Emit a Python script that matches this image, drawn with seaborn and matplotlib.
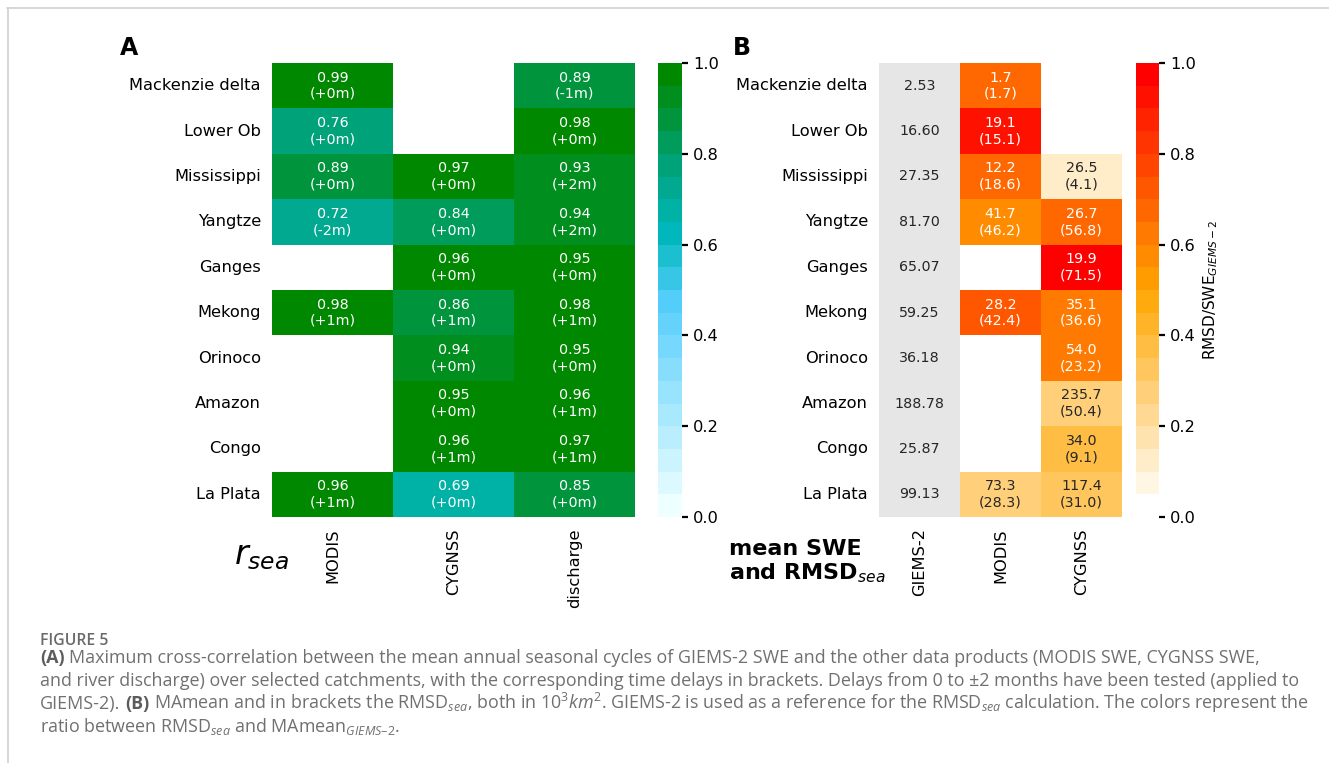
import numpy as np
import pandas as pd
import matplotlib
matplotlib.use("Agg")
import matplotlib.pyplot as plt
from matplotlib.colors import LinearSegmentedColormap, ListedColormap
from matplotlib.lines import Line2D
import seaborn as sns

# ---------------------------------------------------------------- data
catchments = ["Mackenzie delta", "Lower Ob", "Mississippi", "Yangtze", "Ganges",
              "Mekong", "Orinoco", "Amazon", "Congo", "La Plata"]
nan = np.nan

# (A) maximum cross-correlation and lag in months
products_a = ["MODIS", "CYGNSS", "discharge"]
r_modis = [0.99, 0.76, 0.89, 0.72, nan, 0.98, nan, nan, nan, 0.96]
lag_modis = [0, 0, 0, -2, nan, 1, nan, nan, nan, 1]
r_cygnss = [nan, nan, 0.97, 0.84, 0.96, 0.86, 0.94, 0.95, 0.96, 0.69]
lag_cygnss = [nan, nan, 0, 0, 0, 1, 0, 0, 1, 0]
r_discharge = [0.89, 0.98, 0.93, 0.94, 0.95, 0.98, 0.95, 0.96, 0.97, 0.85]
lag_discharge = [-1, 0, 2, 2, 0, 1, 0, 1, 1, 0]

# (B) mean annual SWE and RMSD_sea, in 10^3 km^2
products_b = ["GIEMS-2", "MODIS", "CYGNSS"]
giems_mean = [2.53, 16.60, 27.35, 81.70, 65.07, 59.25, 36.18, 188.78, 25.87, 99.13]
modis_mean = [1.7, 19.1, 12.2, 41.7, nan, 28.2, nan, nan, nan, 73.3]
modis_rmsd = [1.7, 15.1, 18.6, 46.2, nan, 42.4, nan, nan, nan, 28.3]
cygnss_mean = [nan, nan, 26.5, 26.7, 19.9, 35.1, 54.0, 235.7, 34.0, 117.4]
cygnss_rmsd = [nan, nan, 4.1, 56.8, 71.5, 36.6, 23.2, 50.4, 9.1, 31.0]

# ---------------------------------------------------------------- tables
r_df = pd.DataFrame({"MODIS": r_modis, "CYGNSS": r_cygnss, "discharge": r_discharge},
                    index=catchments)[products_a]
lag_df = pd.DataFrame({"MODIS": lag_modis, "CYGNSS": lag_cygnss, "discharge": lag_discharge},
                      index=catchments)[products_a]


def r_label(r, lag):
    if np.isnan(r):
        return ""
    return f"{r:.2f}\n({int(lag):+d}m)"


annot_a = np.array([[r_label(r_df.iat[i, j], lag_df.iat[i, j]) for j in range(3)]
                    for i in range(len(catchments))])

giems = np.array(giems_mean)
ratio_df = pd.DataFrame({"GIEMS-2": [nan] * len(catchments),
                         "MODIS": np.array(modis_rmsd) / giems,
                         "CYGNSS": np.array(cygnss_rmsd) / giems},
                        index=catchments)[products_b]
giems_df = pd.DataFrame({"GIEMS-2": giems_mean, "MODIS": [nan] * len(catchments),
                         "CYGNSS": [nan] * len(catchments)}, index=catchments)[products_b]


def swe_label(m, s):
    if np.isnan(m):
        return ""
    return f"{m:.1f}\n({s:.1f})"


annot_giems = np.array([[f"{g:.2f}", "", ""] for g in giems_mean])
annot_b = np.array([["", swe_label(modis_mean[i], modis_rmsd[i]),
                     swe_label(cygnss_mean[i], cygnss_rmsd[i])]
                    for i in range(len(catchments))])

# ---------------------------------------------------------------- style
sns.set_style("white")
plt.rcParams["font.family"] = ["DejaVu Sans"]
for key in ("text.color", "axes.labelcolor", "xtick.color", "ytick.color"):
    plt.rcParams[key] = "black"
plt.rcParams["mathtext.fontset"] = "dejavusans"
plt.rcParams["mathtext.rm"] = "Open Sans"
plt.rcParams["mathtext.it"] = "Open Sans:italic"
plt.rcParams["mathtext.bf"] = "Open Sans:bold"

cmap_r = LinearSegmentedColormap.from_list(
    "r_sea",
    [(0.0, "#edffff"), (0.47, "#55cdfb"), (0.63, "#00b8bc"), (0.79, "#00a27a"), (1.0, "#008800")],
    N=20)
cmap_ratio = LinearSegmentedColormap.from_list("ratio", ["white", "orange", "red"], N=20)
cmap_grey = ListedColormap(["#e6e6e6"])

W, H = 1329, 763
fig = plt.figure(figsize=(W / 100, H / 100), dpi=100)


def px_axes(left, top, right, bottom):
    return fig.add_axes([left / W, 1 - bottom / H, (right - left) / W, (bottom - top) / H])


axA = px_axes(272, 63, 635, 517)
caxA = px_axes(658, 63, 682, 517)
axB = px_axes(879, 63, 1122, 517)
caxB = px_axes(1136, 63, 1159, 517)

annot_kws = {"fontsize": 10.3}

# ---------------------------------------------------------------- panel A
sns.heatmap(r_df, ax=axA, cmap=cmap_r, vmin=0, vmax=1, annot=annot_a, fmt="",
            annot_kws=annot_kws, cbar_ax=caxA)

# ---------------------------------------------------------------- panel B
sns.heatmap(giems_df, ax=axB, cmap=cmap_grey, vmin=0, vmax=1, annot=annot_giems, fmt="",
            annot_kws=annot_kws, cbar=False)
sns.heatmap(ratio_df, ax=axB, cmap=cmap_ratio, vmin=0, vmax=1, annot=annot_b, fmt="",
            annot_kws=annot_kws, cbar_ax=caxB,
            cbar_kws={"label": r"RMSD/SWE$_{GIEMS-2}$"})

for ax in (axA, axB):
    ax.set_xlabel("")
    ax.set_ylabel("")
    ax.tick_params(axis="both", length=4.5, width=1.6, labelsize=11.7, color="black",
                   labelcolor="black")
    plt.setp(ax.get_yticklabels(), rotation=0)
    plt.setp(ax.get_xticklabels(), rotation=90)

for cax in (caxA, caxB):
    cax.tick_params(length=4.5, width=1.6, labelsize=11.7, color="black", labelcolor="black")
    cax.set_yticks([0.0, 0.2, 0.4, 0.6, 0.8, 1.0])
    for sp in cax.spines.values():
        sp.set_visible(False)
caxB.yaxis.label.set_size(11)
caxB.yaxis.label.set_color("black")

# panel letters and panel titles
fig.text(120 / W, 1 - 48 / H, "A", fontsize=17, fontweight="bold", va="center", ha="left")
fig.text(733 / W, 1 - 48 / H, "B", fontsize=17, fontweight="bold", va="center", ha="left")
fig.text(234 / W, 1 - 556 / H, r"$r_{sea}$", fontsize=24, va="center", ha="left")
fig.text(729 / W, 1 - 562 / H, "mean SWE\nand RMSD$_{sea}$", fontsize=16,
         fontweight="bold", va="center", ha="left", linespacing=1.1)

# frame around the figure
fig.add_artist(Line2D([7 / W, 1], [1 - 7.5 / H, 1 - 7.5 / H], color="#cfcfcf", lw=1.2))
fig.add_artist(Line2D([7.5 / W, 7.5 / W], [0, 1 - 7.5 / H], color="#cfcfcf", lw=1.2))

# ---------------------------------------------------------------- caption
renderer = fig.canvas.get_renderer()
cap_kw = dict(family="Open Sans", va="baseline", ha="left", math_fontfamily="custom")
cap_size = 12.9
cap_color = "#707070"
cap_left = 40.0


def text_width(s, **kw):
    t = fig.text(0, 0, s, **kw)
    w = t.get_window_extent(renderer).width
    t.remove()
    return w


space_w = text_width("a a", fontsize=cap_size, **cap_kw) - text_width("aa", fontsize=cap_size, **cap_kw)


def caption_line(baseline, parts):
    x = cap_left
    for s, bold in parts:
        t = fig.text(x / W, 1 - baseline / H, s, fontsize=cap_size,
                     fontweight="bold" if bold else "normal",
                     color="#5c5c5c" if bold else cap_color, **cap_kw)
        x += t.get_window_extent(renderer).width + space_w


fig.text(cap_left / W, 1 - 645 / H, "FIGURE 5", fontsize=11.3, fontweight="semibold",
         color="#6a6a6a", **cap_kw)
caption_line(663, [("(A)", True),
                   ("Maximum cross-correlation between the mean annual seasonal cycles of GIEMS-2 SWE "
                    "and the other data products (MODIS SWE, CYGNSS SWE,", False)])
caption_line(686, [("and river discharge) over selected catchments, with the corresponding time delays "
                    "in brackets. Delays from 0 to ±2 months have been tested (applied to", False)])
caption_line(709, [("GIEMS-2).", False), ("(B)", True),
                   (r"MAmean and in brackets the RMSD$_{sea}$, both in 10$^3km^2$. GIEMS-2 is used "
                    r"as a reference for the RMSD$_{sea}$ calculation. The colors represent the", False)])
caption_line(732, [("ratio between RMSD$_{sea}$ and MAmean$_{GIEMS–2}$.", False)])

fig.savefig("out.png", dpi=100)
